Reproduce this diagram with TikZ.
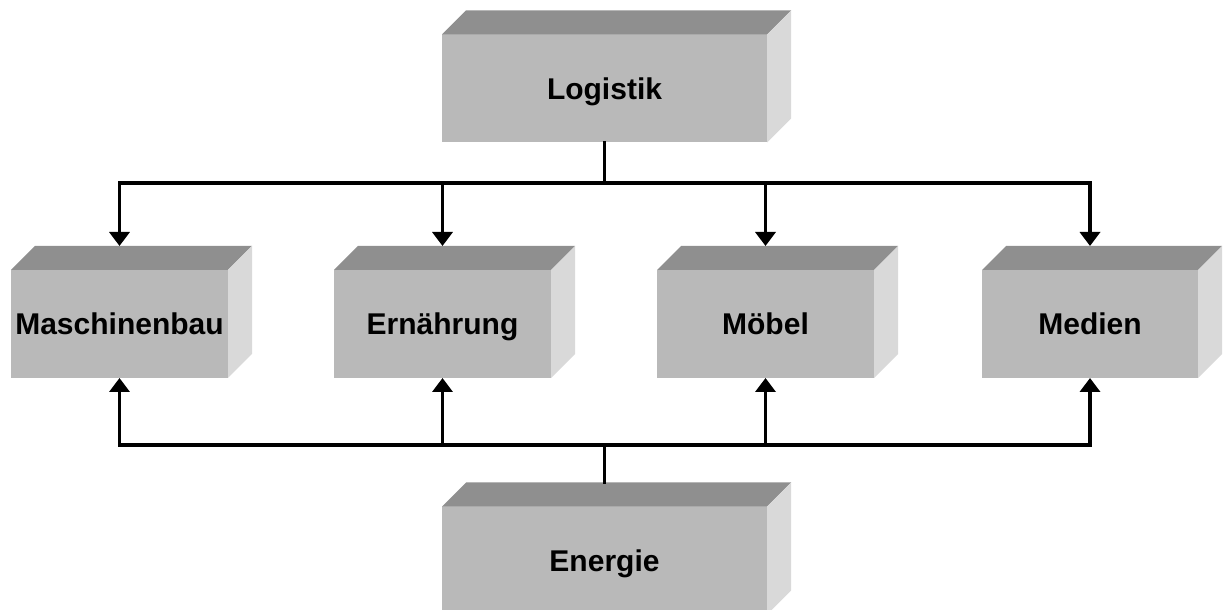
\documentclass[tikz,border=0pt]{standalone}
\usepackage{fontspec}
\setmainfont{Liberation Sans}
\usetikzlibrary{arrows.meta}

\definecolor{frontgray}{gray}{0.725}
\definecolor{topgray}{gray}{0.56}
\definecolor{sidegray}{gray}{0.85}

\tikzset{
  block/.style={fill=frontgray,inner sep=0pt,outer sep=0pt,
    minimum height=108pt,text height=22pt,text depth=0pt,
    font=\bfseries\fontsize{30}{34}\selectfont},
  bus/.style={line width=3.5pt,line cap=rect},
  link/.style={line width=3.5pt,-{Triangle[length=14pt,width=20pt]}}
}

\begin{document}
\begin{tikzpicture}[x=1pt,y=1pt]
         \useasboundingbox (0,0) rectangle (1223,610) ;
         \clip (0,0) rectangle (1223,610) ;
         % front faces
         \node[block,minimum width=325pt] (log) at (604.5,521.5) {Logistik} ;
         \node[block,minimum width=217pt] (mas) at (119.5,286) {Maschinenbau} ;
         \node[block,minimum width=217pt] (ern) at (442.5,286) {Ernährung} ;
         \node[block,minimum width=217pt] (moe) at (765.5,286) {Möbel} ;
         \node[block,minimum width=216pt] (med) at (1090,286) {Medien} ;
         \node[block,minimum width=325pt] (ene) at (604.5,49.5) {Energie} ;
         % top and side faces
         \foreach \n in {log,mas,ern,moe,med,ene} {
           \fill[topgray] (\n.north west) -- ++(24,24)
             -- ([shift={(24,24)}]\n.north east) -- (\n.north east) -- cycle ;
           \fill[sidegray] (\n.north east) -- ++(24,24)
             -- ([shift={(24,24)}]\n.south east) -- (\n.south east) -- cycle ;
         }
         % bus lines
         \coordinate (top) at (604.5,427) ;
         \coordinate (bot) at (604.5,165) ;
         \draw[bus] (log.south) -- (top) ;
         \draw[bus] (mas.north |- top) -- (med.north |- top) ;
         \draw[bus] (mas.south |- bot) -- (med.south |- bot) ;
         \draw[bus] (bot) -- ([yshift=24pt]ene.north) ;
         \foreach \n in {mas,ern,moe,med} {
           \draw[link] (\n.north |- top) -- ([yshift=24pt]\n.north) ;
           \draw[link] (\n.south |- bot) -- (\n.south) ;
         }
       \end{tikzpicture}
\end{document}
